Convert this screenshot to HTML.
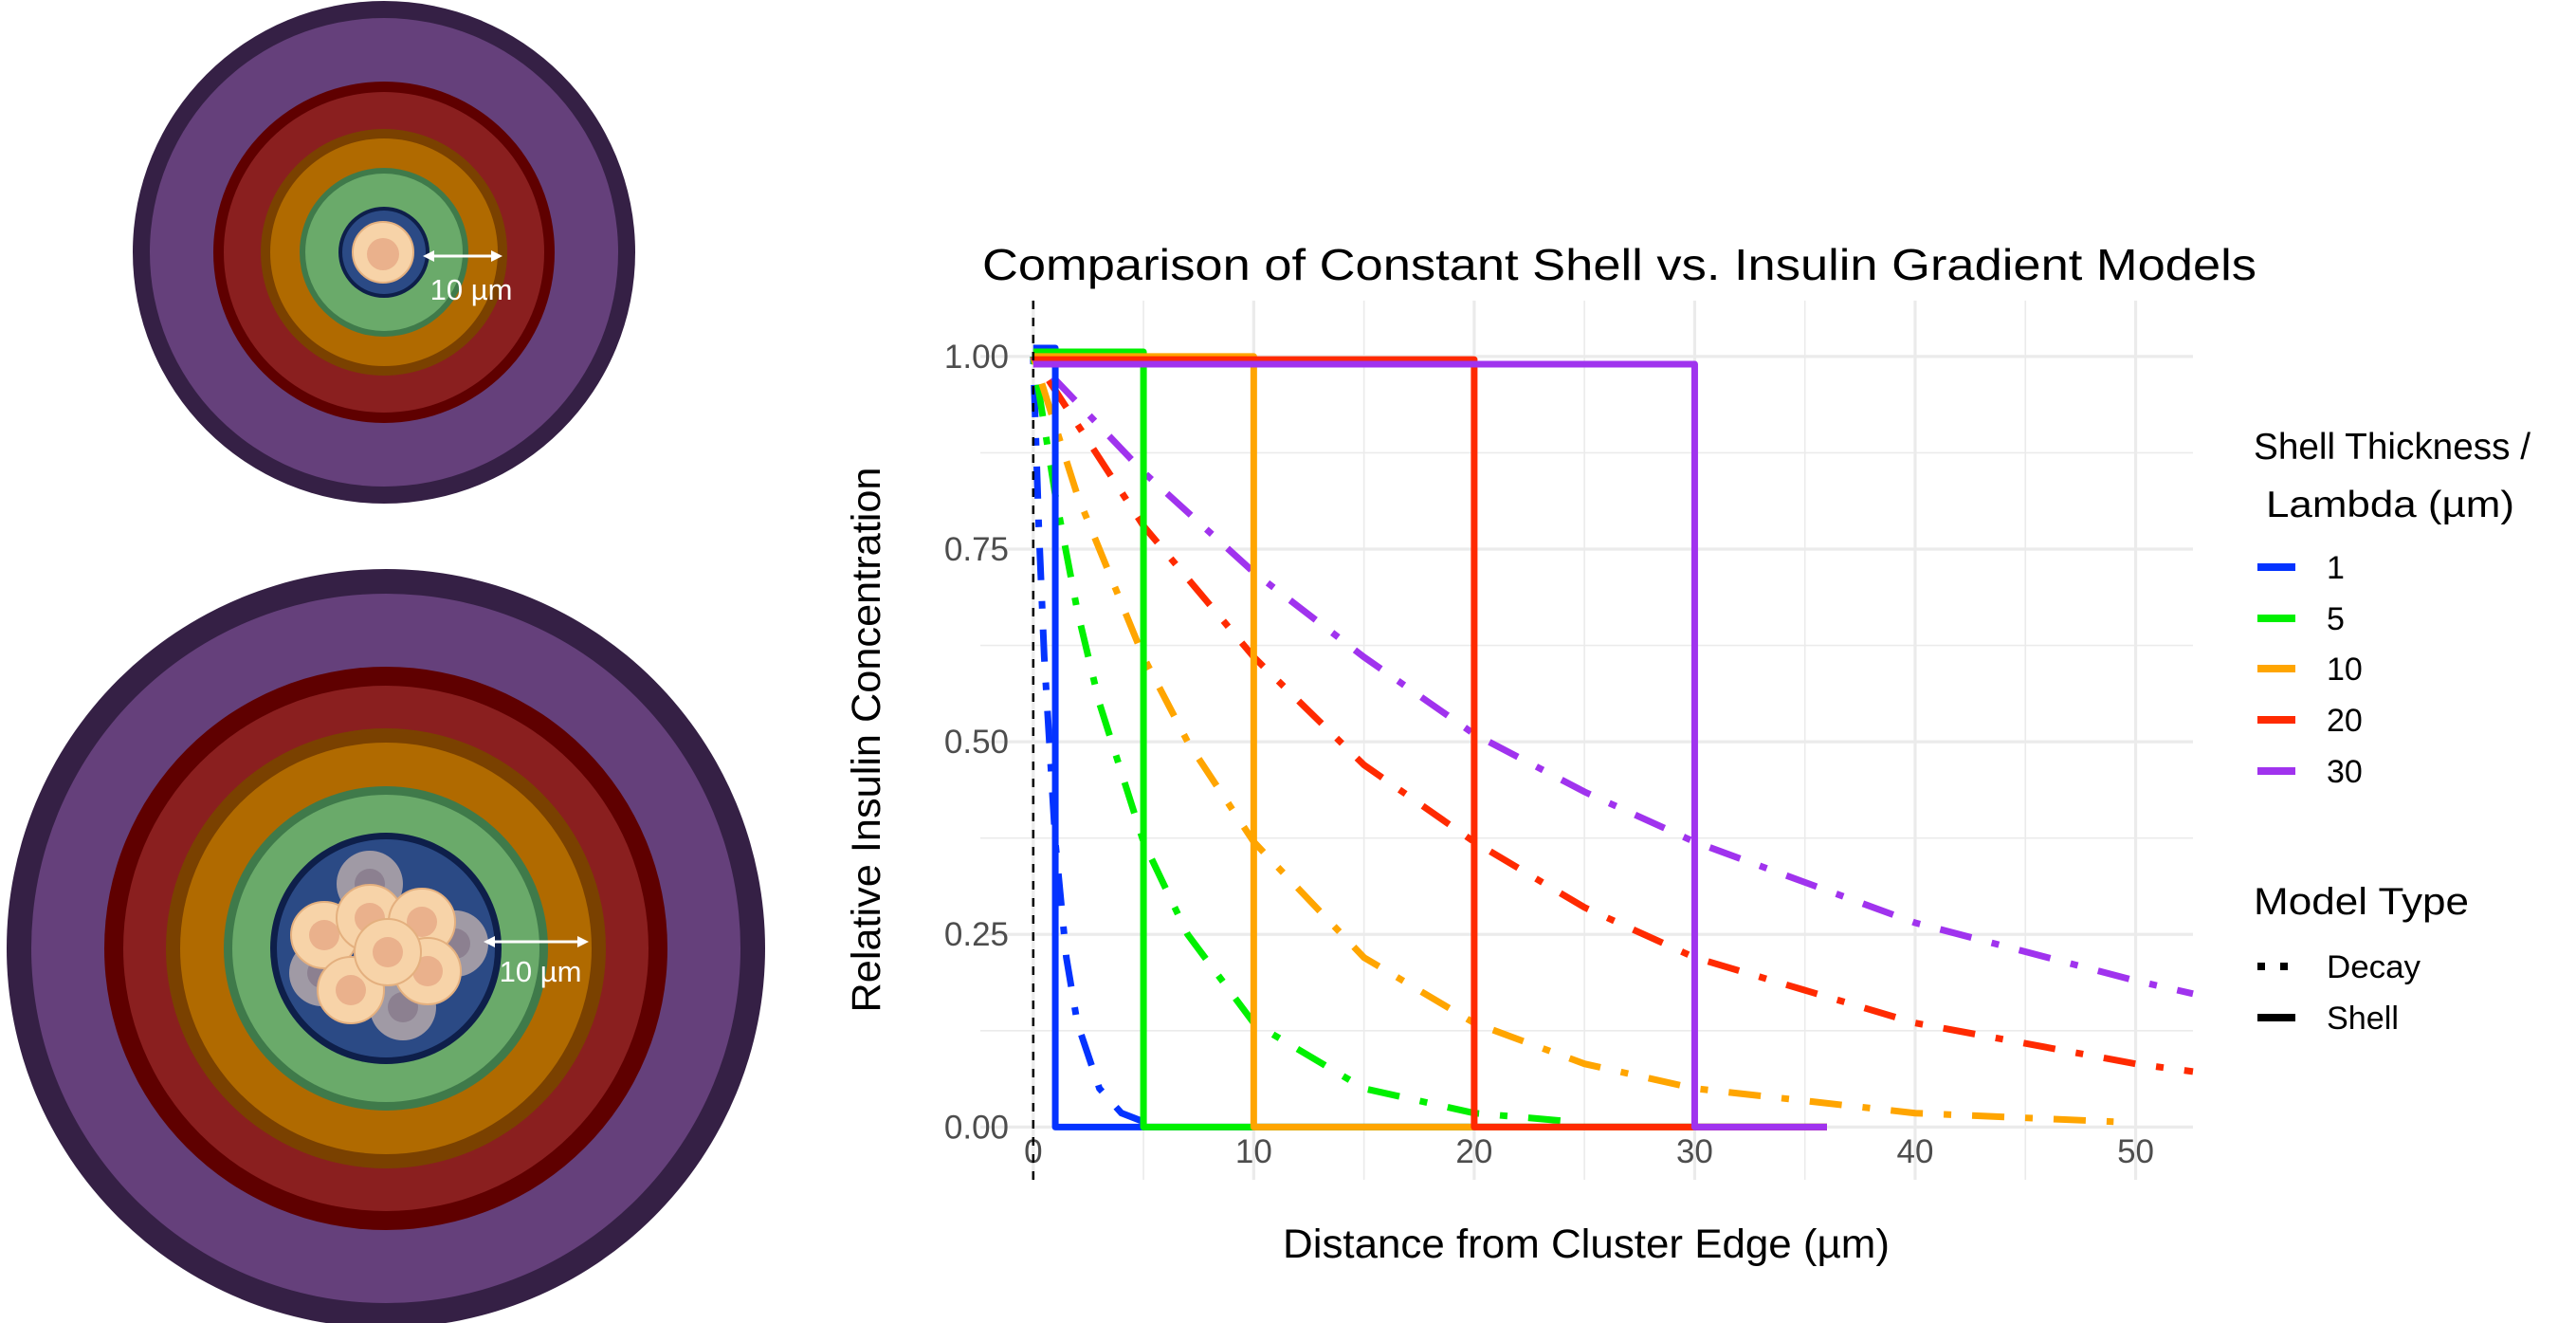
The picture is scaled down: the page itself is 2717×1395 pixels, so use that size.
<!DOCTYPE html>
<html><head><meta charset="utf-8"><style>
body{margin:0;background:#fff;}
svg{display:block;font-family:"Liberation Sans",Arial,sans-serif;}
</style></head><body>
<svg id="fig" width="2717" height="1395" viewBox="0 0 2717 1395" xmlns="http://www.w3.org/2000/svg">
<g id="illus"></g>
<g id="chart"></g>
</svg>
<script>
// ---------- chart data ----------
const lambdas = [1, 5, 10, 20, 30];
const seriesLabels = ["1", "5", "10", "20", "30"];
const colors = ["#0433ff", "#00f000", "#ffa500", "#ff2a00", "#a033ee"];
const shellLevel = [1.011, 1.006, 1.0, 0.996, 0.99];
const shellEnd = 36;
const decayX = {
  "1": [0, 0.25, 0.5, 1, 1.5, 2, 3, 4, 5],
  "5": [0, 1, 2, 3, 5, 7, 10, 15, 20, 24],
  "10": [0, 2, 5, 7, 10, 15, 20, 25, 30, 40, 49],
  "20": [0, 5, 10, 15, 20, 25, 30, 40, 50, 52.6],
  "30": [0, 5, 10, 15, 20, 25, 30, 40, 50, 52.6]
};
const decayY = {
  "1": [1.0, 0.78, 0.61, 0.37, 0.22, 0.135, 0.05, 0.018, 0.007],
  "5": [1.0, 0.82, 0.67, 0.55, 0.37, 0.25, 0.135, 0.05, 0.018, 0.008],
  "10": [1.0, 0.82, 0.61, 0.50, 0.37, 0.22, 0.135, 0.082, 0.05, 0.018, 0.007],
  "20": [1.0, 0.78, 0.61, 0.47, 0.37, 0.285, 0.22, 0.135, 0.082, 0.072],
  "30": [1.0, 0.85, 0.72, 0.61, 0.51, 0.435, 0.37, 0.265, 0.19, 0.173]
};
const xTicks = [0, 10, 20, 30, 40, 50];
const xMinor = [5, 15, 25, 35, 45];
const yTicks = [0, 0.25, 0.5, 0.75, 1.0];
const yTickLabels = ["0.00", "0.25", "0.50", "0.75", "1.00"];
const yMinor = [0.125, 0.375, 0.625, 0.875];

const NS = "http://www.w3.org/2000/svg";
function mk(tag, attrs, parent, txt) {
  const e = document.createElementNS(NS, tag);
  for (const k in attrs) e.setAttribute(k, attrs[k]);
  if (txt !== undefined) e.textContent = txt;
  parent.appendChild(e);
  return e;
}
const P = {l: 1034, r: 2313, t: 317, b: 1244};
const X0 = -2.4, X1 = 52.6, Y0 = -0.0685, Y1 = 1.0725;
const sx = v => P.l + (v - X0) / (X1 - X0) * (P.r - P.l);
const sy = v => P.b - (v - Y0) / (Y1 - Y0) * (P.b - P.t);
const chart = document.getElementById('chart');

// grid
const grid = mk('g', {}, chart);


xMinor.forEach(v => mk('line', {x1: sx(v), x2: sx(v), y1: P.t, y2: P.b, stroke: '#ebebeb', 'stroke-width': 1.6}, grid));
yMinor.forEach(v => mk('line', {x1: P.l, x2: P.r, y1: sy(v), y2: sy(v), stroke: '#ebebeb', 'stroke-width': 1.6}, grid));
xTicks.forEach(v => mk('line', {x1: sx(v), x2: sx(v), y1: P.t, y2: P.b, stroke: '#ebebeb', 'stroke-width': 3.2}, grid));
yTicks.forEach(v => mk('line', {x1: P.l, x2: P.r, y1: sy(v), y2: sy(v), stroke: '#ebebeb', 'stroke-width': 3.2}, grid));

// tick labels
const xt = mk('g', {}, chart);


xTicks.forEach(v => mk('text', {x: sx(v), y: 1226, 'font-size': 35, fill: '#4d4d4d', 'text-anchor': 'middle'}, xt, String(v)));
const yt = mk('g', {}, chart);


yTicks.forEach((v, i) => mk('text', {x: 1064, y: sy(v) + 12, 'font-size': 35, fill: '#4d4d4d', 'text-anchor': 'end'}, yt, yTickLabels[i]));

// titles
const title = mk('text', {x: 1036, y: 295, 'font-size': 46, fill: '#000', textLength: 1344, lengthAdjust: 'spacingAndGlyphs'}, chart, 'Comparison of Constant Shell vs. Insulin Gradient Models');


const xtitle = mk('text', {x: 1673, y: 1326, 'font-size': 43, fill: '#000', 'text-anchor': 'middle', textLength: 640, lengthAdjust: 'spacingAndGlyphs'}, chart, 'Distance from Cluster Edge (µm)');


const ytitle = mk('text', {x: 0, y: 0, 'font-size': 43, fill: '#000', 'text-anchor': 'middle', textLength: 575, lengthAdjust: 'spacingAndGlyphs', transform: `translate(928,780) rotate(-90)`}, chart, 'Relative Insulin Concentration');



// decay curves
const dash = '8 22 34 22';
lambdas.forEach((lam, i) => {
  const k = seriesLabels[i];
  const d = decayX[k].map((x, j) => (j ? 'L' : 'M') + sx(x).toFixed(1) + ',' + sy(decayY[k][j]).toFixed(1)).join('');
  const p = mk('path', {d: d, fill: 'none', stroke: colors[i], 'stroke-width': 7, 'stroke-dasharray': dash}, chart);
  
  
});
// shell step lines
lambdas.forEach((lam, i) => {
  const k = seriesLabels[i];
  const d = `M${sx(0)},${sy(shellLevel[i])}L${sx(lam)},${sy(shellLevel[i])}L${sx(lam)},${sy(0)}L${sx(shellEnd)},${sy(0)}`;
  const p = mk('path', {d: d, fill: 'none', stroke: colors[i], 'stroke-width': 7, 'stroke-linejoin': 'round'}, chart);
  
  
});
// zero reference line
const zl = mk('line', {x1: sx(0), x2: sx(0), y1: P.t, y2: P.b, stroke: '#000', 'stroke-width': 2.5, 'stroke-dasharray': '9 9'}, chart);



// legend
const lg = mk('g', {}, chart);


mk('text', {x: 2377, y: 484, 'font-size': 39, textLength: 292, lengthAdjust: 'spacingAndGlyphs'}, lg, 'Shell Thickness /');
mk('text', {x: 2390, y: 545, 'font-size': 39, textLength: 262, lengthAdjust: 'spacingAndGlyphs'}, lg, 'Lambda (µm)');
const ly = [598, 652, 705, 759, 813];
seriesLabels.forEach((s, i) => {
  const e = mk('g', {}, lg);
  
  
  mk('line', {x1: 2381, x2: 2421, y1: ly[i], y2: ly[i], stroke: colors[i], 'stroke-width': 8}, e);
  mk('text', {x: 2454, y: ly[i] + 12, 'font-size': 34}, e, s);
});
mk('text', {x: 2377, y: 964, 'font-size': 40, textLength: 227, lengthAdjust: 'spacingAndGlyphs'}, lg, 'Model Type');
const e1 = mk('g', {}, lg);


mk('line', {x1: 2381, x2: 2421, y1: 1019, y2: 1019, stroke: '#000', 'stroke-width': 8, 'stroke-dasharray': '8 16'}, e1);
mk('text', {x: 2454, y: 1031, 'font-size': 34, textLength: 99, lengthAdjust: 'spacingAndGlyphs'}, e1, 'Decay');
const e2 = mk('g', {}, lg);


mk('line', {x1: 2381, x2: 2421, y1: 1073, y2: 1073, stroke: '#000', 'stroke-width': 8}, e2);
mk('text', {x: 2454, y: 1085, 'font-size': 34, textLength: 76, lengthAdjust: 'spacingAndGlyphs'}, e2, 'Shell');

// ---------- illustration ----------
const il = document.getElementById('illus');
function rings(cx, cy, list, name) {
  const g = mk('g', {}, il);
  
  
  list.forEach(r => mk('circle', {cx: cx, cy: cy, r: r[0], fill: r[1]}, g));
  return g;
}
const ringColors = ['#352045', '#65407b', '#5f0000', '#8a1f1f', '#7a4100', '#b06a00', '#3f7a4a', '#6aaa6a', '#0e1f4a', '#2b4a85'];
const topR = [265, 247, 180, 169, 130, 120, 89, 83, 48, 44];
const botR = [400, 374, 297, 277, 232, 217, 171, 162, 122, 115];
const gt = rings(405, 266, topR.map((r, i) => [r, ringColors[i]]), 'small-cluster');
mk('circle', {cx: 404, cy: 266, r: 32, fill: '#f7d3a8', stroke: '#e4b07f', 'stroke-width': 2}, gt);
mk('circle', {cx: 404, cy: 268, r: 17, fill: '#eab18c'}, gt);
const gb = rings(407, 1000, botR.map((r, i) => [r, ringColors[i]]), 'large-cluster');
const grey = [[390, 932], [480, 995], [340, 1026], [425, 1062]];
grey.forEach(c => { mk('circle', {cx: c[0], cy: c[1], r: 35, fill: '#a09aa5'}, gb); mk('circle', {cx: c[0], cy: c[1], r: 16, fill: '#8c8090'}, gb); });
const cells = [[342, 986], [390, 968], [445, 972], [370, 1044], [451, 1024], [409, 1004]];
cells.forEach(c => { mk('circle', {cx: c[0], cy: c[1], r: 35, fill: '#f7d3a8', stroke: '#e4b07f', 'stroke-width': 2}, gb); mk('circle', {cx: c[0], cy: c[1], r: 16, fill: '#eab18c'}, gb); });
function arrow(x1, x2, y, tx, ty, name) {
  const g = mk('g', {}, il);
  
  
  mk('line', {x1: x1 + 8, x2: x2 - 8, y1: y, y2: y, stroke: '#fff', 'stroke-width': 3}, g);
  mk('path', {d: `M${x1},${y}l12,-6v12z`, fill: '#fff'}, g);
  mk('path', {d: `M${x2},${y}l-12,-6v12z`, fill: '#fff'}, g);
  mk('text', {x: tx, y: ty, 'font-size': 31, fill: '#fff', 'text-anchor': 'middle'}, g, '10 µm');
}
arrow(446, 530, 270, 497, 316, 'small-scale-arrow');
arrow(510, 621, 993, 570, 1035, 'large-scale-arrow');
</script>
</body></html>
